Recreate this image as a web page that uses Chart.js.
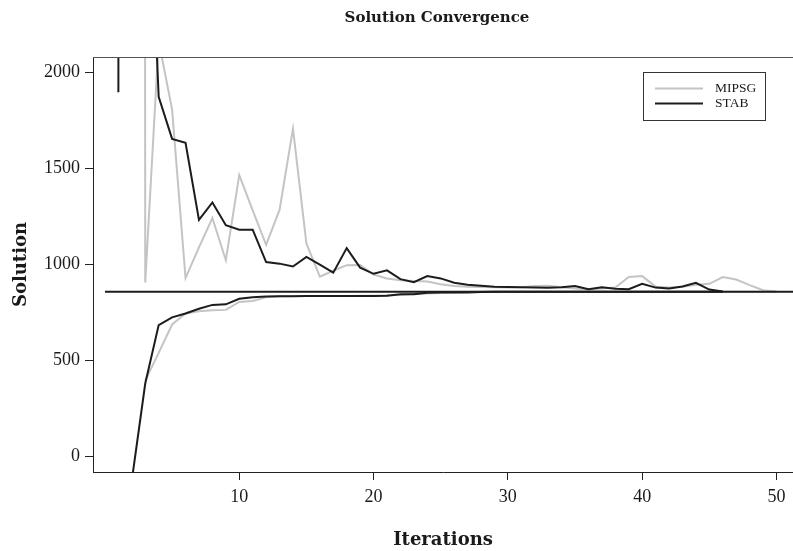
<!DOCTYPE html>
<html>
<head>
<meta charset="utf-8">
<script src="https://cdn.jsdelivr.net/npm/chart.js@4.4.0/dist/chart.umd.min.js"></script>
<style>
html,body{margin:0;padding:0;background:#fff;}
#wrap{width:793px;height:551px;position:relative;}
</style>
</head>
<body>
<div id="wrap"><canvas id="c" width="793" height="551"></canvas></div>
<script>
// ---- data ----
const iterations = [1,2,3,4,5,6,7,8,9,10,11,12,13,14,15,16,17,18,19,20,21,22,23,24,25,26,27,28,29,30,31,32,33,34,35,36,37,38,39,40,41,42,43,44,45,46,47,48,49,50];

const mipsgUpper = [null,100000,907,2165,1808,930,1090,1243,1023,1466,1283,1103,1285,1709,1110,937,968,997,998,948,928,918,914,912,898,888,885,883,882,880,882,888,890,882,876,870,876,880,935,940,885,880,884,895,900,935,922,893,866,860];
const mipsgLower = [null,null,395,540,688,745,757,762,764,805,810,830,835,836,836,836,836,836,837,838,840,842,848,850,852,855,857,858,858,858,858,858,858,858,858,858,858,858,858,858,858,858,858,858,858,858,858,858,858,858];

const stabUpper = [1898,100000,3500,1875,1655,1635,1233,1324,1205,1182,1182,1013,1005,990,1040,1000,958,1086,984,952,970,924,908,940,928,905,895,890,885,883,882,880,879,882,888,872,882,874,872,900,880,876,886,905,870,860,null,null,null,null];
const stabLower = [null,-125,380,685,725,745,770,790,793,822,830,834,835,835,836,836,836,836,836,836,838,845,846,853,854,854,855,857,858,858,858,858,858,858,858,858,858,858,858,858,858,858,858,858,858,858,null,null,null,null];

const referenceValue = 858;
const referenceSpan = [0, 52];

const seriesNames = ['MIPSG', 'STAB'];
const seriesColors = ['#c4c4c4', '#1c1c1c'];

const xTicks = [10, 20, 30, 40, 50];
const yTicks = [0, 500, 1000, 1500, 2000];

// ---- build ----
const toXY = arr => iterations.map((it, i) => ({x: it, y: arr[i]}));
const lineStyle = (color, order) => ({
  borderColor: color, backgroundColor: color, borderWidth: 2,
  pointRadius: 0, tension: 0, fill: false, spanGaps: false, order: order
});

const datasets = [
  Object.assign({label: seriesNames[0], data: toXY(mipsgUpper)}, lineStyle(seriesColors[0], 3)),
  Object.assign({label: seriesNames[0] + ' lower', data: toXY(mipsgLower)}, lineStyle(seriesColors[0], 3)),
  Object.assign({label: seriesNames[1], data: toXY(stabUpper)}, lineStyle(seriesColors[1], 1)),
  Object.assign({label: seriesNames[1] + ' lower', data: toXY(stabLower)}, lineStyle(seriesColors[1], 1)),
  Object.assign({label: 'reference', data: referenceSpan.map(x => ({x: x, y: referenceValue}))}, lineStyle(seriesColors[1], 0))
];

const textColor = '#1a1a1a';
const tickFont = {family: '"Liberation Serif", serif', size: 18};
const titleFont = {family: '"DejaVu Serif", serif', size: 18, weight: 'bold'};

const decor = {
  id: 'decor',
  afterDraw(chart) {
    const {ctx, chartArea: a} = chart;
    ctx.save();
    // top frame line
    ctx.strokeStyle = '#555';
    ctx.lineWidth = 1;
    ctx.beginPath();
    ctx.moveTo(a.left, a.top + 0.5);
    ctx.lineTo(a.right, a.top + 0.5);
    ctx.stroke();
    // main title
    ctx.fillStyle = textColor;
    ctx.font = 'bold 15px "DejaVu Serif"';
    ctx.textAlign = 'center';
    ctx.textBaseline = 'middle';
    ctx.fillText('Solution Convergence', 437, 18);
    // legend
    const bx = 643, by = 72, bw = 122, bh = 48;
    ctx.fillStyle = '#fff';
    ctx.fillRect(bx, by, bw, bh);
    ctx.strokeStyle = '#333';
    ctx.lineWidth = 1;
    ctx.strokeRect(bx + 0.5, by + 0.5, bw, bh);
    ctx.font = '13.5px "Liberation Serif"';
    ctx.textAlign = 'left';
    seriesNames.forEach((name, i) => {
      const y = 88.5 + i * 15;
      ctx.strokeStyle = seriesColors[i];
      ctx.lineWidth = 2;
      ctx.beginPath();
      ctx.moveTo(655, y);
      ctx.lineTo(703, y);
      ctx.stroke();
      ctx.fillStyle = textColor;
      ctx.fillText(name, 715, y);
    });
    ctx.restore();
  }
};

new Chart(document.getElementById('c'), {
  type: 'line',
  data: {datasets: datasets},
  options: {
    responsive: false,
    animation: false,
    devicePixelRatio: 1,
    layout: {padding: {top: 57, left: 0, right: 0, bottom: 0}},
    plugins: {legend: {display: false}, tooltip: {enabled: false}, title: {display: false}},
    scales: {
      x: {
        type: 'linear',
        min: -0.89, max: 51.23,
        afterBuildTicks: s => { s.ticks = xTicks.map(v => ({value: v})); },
        afterFit: s => { s.height = 79; },
        grid: {drawOnChartArea: false, drawTicks: true, tickLength: 8, color: '#222'},
        border: {display: true, color: '#222', width: 1},
        ticks: {font: tickFont, color: textColor, padding: 6, maxRotation: 0, callback: v => String(v)},
        title: {display: true, text: 'Iterations', font: titleFont, color: textColor, padding: {top: 0, bottom: 0}}
      },
      y: {
        type: 'linear',
        min: -81, max: 2082,
        afterBuildTicks: s => { s.ticks = yTicks.map(v => ({value: v})); },
        afterFit: s => { s.width = 93; },
        grid: {drawOnChartArea: false, drawTicks: true, tickLength: 8, color: '#222'},
        border: {display: true, color: '#222', width: 1},
        ticks: {font: tickFont, color: textColor, padding: 5, callback: v => String(v)},
        title: {display: true, text: 'Solution', font: titleFont, color: textColor, padding: {top: 11, bottom: 0}}
      }
    }
  },
  plugins: [decor]
});
</script>
</body>
</html>
